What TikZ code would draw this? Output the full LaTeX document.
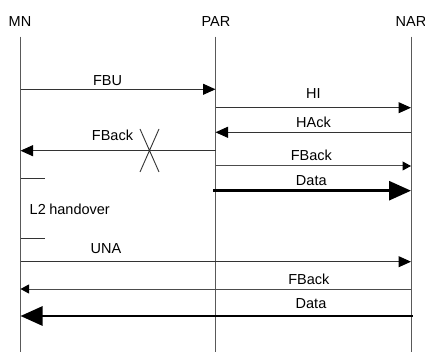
\documentclass[tikz,border=0pt]{standalone}
\usepackage{fontspec}
\setmainfont{Liberation Sans}
\usetikzlibrary{arrows.meta}
\begin{document}
\begin{tikzpicture}[x=1pt,y=-1pt,
  font=\fontsize{14.5}{16}\selectfont,
  lbl/.style={inner sep=0pt, anchor=center},
  life/.style={draw=black!65, line width=1pt},
  msg/.style={draw=black!80, line width=1pt, -{Triangle[length=12.5pt,width=11pt,color=black]}},
  smallmsg/.style={draw=black!70, line width=1pt, -{Triangle[length=8.5pt,width=9pt,color=black]}},
  datamsg/.style={draw=black, line width=2.8pt, -{Triangle[length=22pt,width=19pt]}},
  tick/.style={draw=black!80, line width=1pt}]
\useasboundingbox (0,0) rectangle (425,352);
% lifeline heads
\node[lbl] (MN) at (20,21.3) {MN};
\node[lbl] (PAR) at (216,21.3) {PAR};
\node[lbl] (NAR) at (411,21.3) {NAR};
\coordinate (mnT) at (20.5,36.7);  \coordinate (mnB) at (20.5,352);
\coordinate (parT) at (215.5,36.7); \coordinate (parB) at (215.5,352);
\coordinate (narT) at (411,36.7);  \coordinate (narB) at (411,352);
\draw[life] (mnT) -- (mnB);
\draw[life] (parT) -- (parB);
\draw[life] (narT) -- (narB);
% messages
\draw[msg] (mnT |- 0,89.3) -- (parT |- 0,89.3);
\node[lbl] (fbu) at (107.5,80.3) {FBU};
\draw[msg] (parT |- 0,107.7) -- (narT |- 0,107.7);
\node[lbl] (hi) at (313.3,93.3) {HI};
\draw[msg] (narT |- 0,132.3) -- (parT |- 0,132.3);
\node[lbl] (hack) at (313.5,122.3) {HAck};
\draw[msg] (parT |- 0,150.7) -- (mnT |- 0,150.7);
\node[lbl] (fback1) at (112.5,135) {FBack};
\coordinate (x1) at (140,129); \coordinate (x2) at (159,172);
\coordinate (x3) at (159,129); \coordinate (x4) at (140,172);
\draw[draw=black!80, line width=0.9pt] (x1) -- (x2) (x3) -- (x4);
\draw[smallmsg] (parT |- 0,166) -- (narT |- 0,166);
\node[lbl] (fback2) at (311.3,155.7) {FBack};
\draw[datamsg] (213,190.7) -- (narT |- 0,190.7);
\node[lbl] (data1) at (311.3,181) {Data};
% L2 handover
\coordinate (t1) at (44.7,178.3); \coordinate (t2) at (44.7,239);
\draw[tick] (mnT |- t1) -- (t1);
\draw[tick] (mnT |- t2) -- (t2);
\node[inner sep=0pt, anchor=west] (l2) at (29.5,209) {L2\kern-0.5pt\ handover};
\draw[msg] (mnT |- 0,261.7) -- (narT |- 0,261.7);
\node[lbl] (una) at (106,249) {UNA};
\draw[smallmsg] (narT |- 0,289) -- (mnT |- 0,289);
\node[lbl] (fback3) at (308.8,279) {FBack};
\draw[datamsg] (412.5,316) -- (mnT |- 0,316);
\node[lbl] (data2) at (311,304) {Data};
\end{tikzpicture}
\end{document}
